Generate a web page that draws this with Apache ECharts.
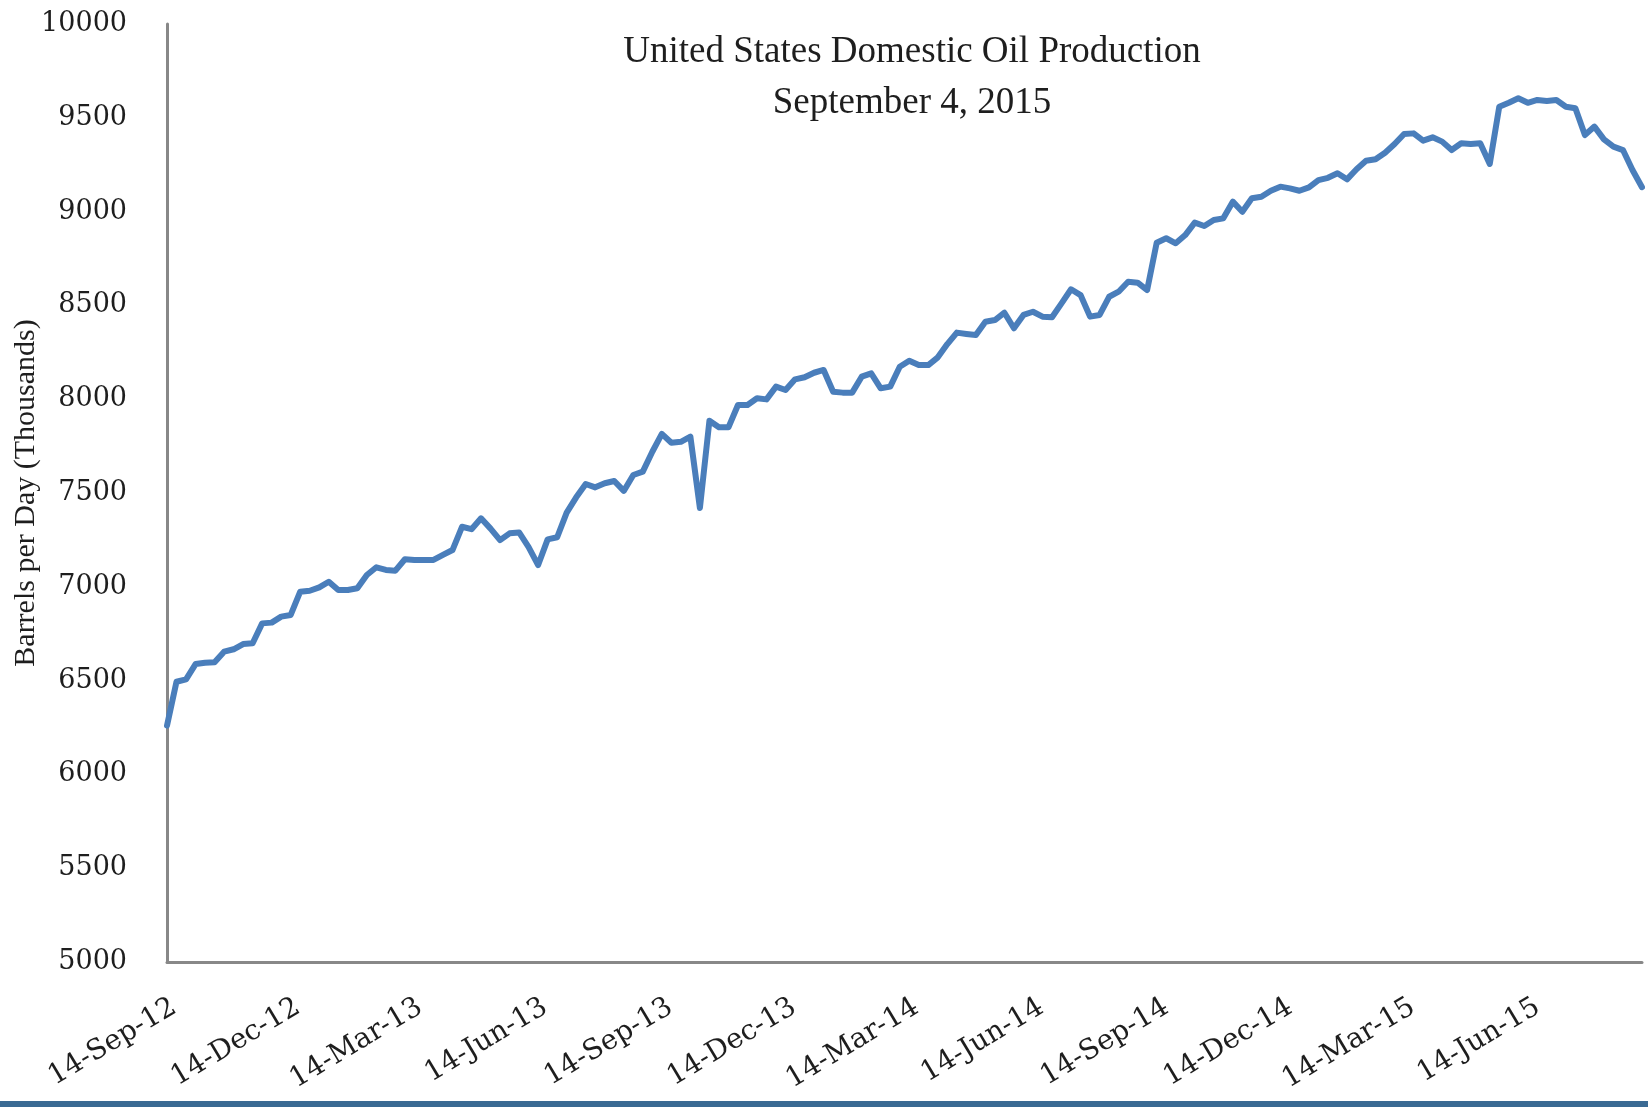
<!DOCTYPE html>
<html>
<head>
<meta charset="utf-8">
<script src="https://cdn.jsdelivr.net/npm/echarts@6/dist/echarts.min.js"></script>
<style>
html, body { margin: 0; padding: 0; background: #ffffff; }
#chart { width: 1648px; height: 1107px; }
</style>
</head>
<body>
<div id="chart"></div>
<script>
const titleText = 'United States Domestic Oil Production';
const subtitleText = 'September 4, 2015';
const yAxisName = 'Barrels per Day (Thousands)';

// weekly observations, first week ending 14-Sep-2012, last 4-Sep-2015
const firstWeek = '2012-09-14';
const lastWeek = '2015-09-04';

// Barrels per day (thousands), one value per week
const production = [
  6260, 6494, 6507, 6588, 6595, 6598, 6654, 6667, 6695, 6699,
  6805, 6809, 6841, 6850, 6974, 6979, 6997, 7027, 6983, 6983,
  6992, 7063, 7104, 7090, 7086, 7147, 7143, 7143, 7143, 7170,
  7196, 7320, 7307, 7365, 7310, 7249, 7285, 7290, 7212, 7116,
  7253, 7264, 7395, 7477, 7548, 7530, 7552, 7564, 7511, 7596,
  7614, 7720, 7815, 7768, 7773, 7800, 7420, 7885, 7850, 7850,
  7969, 7969, 8005, 7999, 8067, 8049, 8106, 8117, 8141, 8156,
  8040, 8035, 8035, 8120, 8138, 8058, 8067, 8173, 8205, 8182,
  8182, 8223, 8294, 8355, 8348, 8342, 8413, 8422, 8461, 8378,
  8449, 8466, 8440, 8437, 8511, 8586, 8555, 8440, 8449, 8546,
  8573, 8626, 8621, 8582, 8834, 8858, 8831, 8875, 8941, 8923,
  8955, 8964, 9053, 8999, 9071, 9079, 9111, 9133, 9124, 9111,
  9129, 9168, 9180, 9204, 9172, 9226, 9271, 9279, 9314, 9360,
  9414, 9417, 9378, 9396, 9373, 9328, 9364, 9360, 9364, 9254,
  9559, 9580, 9604, 9580, 9595, 9590, 9595, 9559, 9551, 9408,
  9453, 9385, 9346, 9328, 9222, 9130
];

// x-axis tick positions and their labels
const tickDates = [
  '2012-09-14', '2012-12-14', '2013-03-14', '2013-06-14',
  '2013-09-14', '2013-12-14', '2014-03-14', '2014-06-14',
  '2014-09-14', '2014-12-14', '2015-03-14', '2015-06-14'
];
const tickLabels = [
  '14-Sep-12', '14-Dec-12', '14-Mar-13', '14-Jun-13',
  '14-Sep-13', '14-Dec-13', '14-Mar-14', '14-Jun-14',
  '14-Sep-14', '14-Dec-14', '14-Mar-15', '14-Jun-15'
];

// y-axis scale
const yMin = 5000;
const yMax = 10000;
const yStep = 500;

// x is measured in days since the first weekly observation
const DAY = 86400000;
const startTime = Date.parse(firstWeek);
const dayOf = d => Math.round((Date.parse(d) - startTime) / DAY);
const lastDay = dayOf(lastWeek);
const tickDays = tickDates.map(dayOf);
const seriesData = production.map((v, i) => [i * 7, v]);

const chart = echarts.init(document.getElementById('chart'), null, { renderer: 'canvas' });

chart.setOption({
  animation: false,
  backgroundColor: '#ffffff',
  title: {
    text: titleText,
    subtext: subtitleText,
    left: 907,
    top: 29,
    textAlign: 'center',
    itemGap: 14,
    textStyle: {
      fontFamily: 'Liberation Serif',
      fontSize: 37,
      fontWeight: 'normal',
      color: '#1e1e1e'
    },
    subtextStyle: {
      fontFamily: 'Liberation Serif',
      fontSize: 37,
      color: '#1e1e1e'
    }
  },
  grid: {
    left: 167,
    right: 6,
    top: 24,
    bottom: 145,
    outerBoundsMode: 'none',
    containLabel: false
  },
  xAxis: {
    type: 'value',
    min: 0,
    max: lastDay,
    axisLine: { show: true, onZero: false, lineStyle: { color: '#888888', width: 3 } },
    axisTick: { show: false },
    splitLine: { show: false },
    axisLabel: {
      customValues: tickDays,
      rotate: 31,
      margin: 31,
      align: 'right',
      verticalAlign: 'top',
      fontFamily: 'DejaVu Serif',
      fontSize: 28,
      color: '#1e1e1e',
      formatter: function (value) {
        let best = 0;
        for (let i = 1; i < tickDays.length; i++) {
          if (Math.abs(tickDays[i] - value) < Math.abs(tickDays[best] - value)) best = i;
        }
        return tickLabels[best];
      }
    }
  },
  yAxis: {
    type: 'value',
    min: yMin,
    max: yMax,
    interval: yStep,
    name: yAxisName,
    nameLocation: 'middle',
    nameGap: 126,
    nameMoveOverlap: false,
    nameTextStyle: {
      fontFamily: 'Liberation Serif',
      fontSize: 30,
      color: '#1e1e1e'
    },
    axisLine: { show: true, lineStyle: { color: '#888888', width: 3 } },
    axisTick: { show: false },
    splitLine: { show: false },
    axisLabel: {
      margin: 40,
      fontFamily: 'DejaVu Serif',
      fontSize: 27,
      color: '#1e1e1e',
      formatter: function (value) { return String(value); }
    }
  },
  series: [{
    type: 'line',
    data: seriesData,
    showSymbol: false,
    symbol: 'none',
    lineStyle: { color: '#4a7ebb', width: 6, join: 'round', cap: 'round' },
    z: 3
  }],
  graphic: [{
    type: 'rect',
    left: 0,
    top: 1101,
    shape: { width: 1648, height: 6 },
    style: { fill: '#3a6a93' },
    silent: true
  }]
});
</script>
</body>
</html>
